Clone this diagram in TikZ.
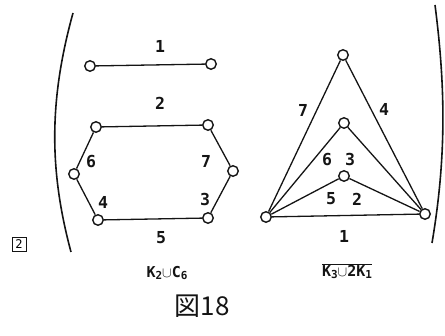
\documentclass[tikz,border=0pt]{standalone}
\usepackage{fontspec}
\setmonofont{DejaVu Sans Mono}
\newfontfamily\cjkFont{Noto Sans CJK JP}
\usepackage{xcolor}
\definecolor{inkDark}{RGB}{20, 20, 20}
\usetikzlibrary{positioning}
\newcommand{\subDigit}[1]{\raisebox{-2.5pt}{\fontsize{11}{12}\selectfont #1}}

\begin{document}
\begin{tikzpicture}[
    x=1pt, y=-1pt,
    vertexNode/.style={
        circle, draw=inkDark, line width=1.4pt,
        fill=white, minimum size=10.5pt, inner sep=0pt
    },
    graphEdge/.style={
        draw=inkDark, line width=1.3pt
    },
    edgeLabel/.style={
        font=\fontsize{16.5}{19}\selectfont\ttfamily\bfseries, text=inkDark, inner sep=0pt
    },
    captionLabel/.style={
        font=\fontsize{15}{18}\selectfont\ttfamily\bfseries, text=inkDark, inner sep=0pt
    },
    bracketLine/.style={
        draw=inkDark, line width=1.6pt
    }
]
    \useasboundingbox (0,0) rectangle (445,336);

    % Outer brackets
    \coordinate (lbTop) at (73,13);
    \coordinate (lbBot) at (71,252);
    \coordinate (rbTop) at (435,5);
    \coordinate (rbBot) at (432,243);
    \draw[bracketLine] (lbTop) .. controls (49,100) and (49,170) .. (lbBot);
    \draw[bracketLine] (rbTop) .. controls (446,90) and (446,160) .. (rbBot);

    % Item number
    \node[draw=inkDark, line width=0.9pt, minimum size=14pt, inner sep=0pt,
          font=\fontsize{12}{14}\selectfont\ttfamily] (itemNo) at (19,244) {2};

    % K2: single edge
    \node[vertexNode] (kA) at (90,66) {};
    \node[vertexNode] (kB) at (211,64) {};
    \draw[graphEdge] (kA) -- (kB);
    \node[edgeLabel] (lOne) at (160,46) {1};

    % C6: hexagon
    \node[vertexNode] (cTL) at (96,127) {};
    \node[vertexNode] (cTR) at (208,125) {};
    \node[vertexNode] (cR)  at (233,171) {};
    \node[vertexNode] (cBR) at (208,218) {};
    \node[vertexNode] (cBL) at (98,220) {};
    \node[vertexNode] (cL)  at (74,174) {};
    \draw[graphEdge] (cTL) -- (cTR) -- (cR) -- (cBR) -- (cBL) -- (cL) -- (cTL);
    \node[edgeLabel] (lTwo)   at (160,103) {2};
    \node[edgeLabel] (lSix)   at (91,162)  {6};
    \node[edgeLabel] (lSeven) at (206,161) {7};
    \node[edgeLabel] (lFour)  at (103,202) {4};
    \node[edgeLabel] (lThree) at (205,199) {3};
    \node[edgeLabel] (lFive)  at (161,238) {5};

    % Complement of K3 + 2K1
    \node[vertexNode] (tTop) at (343,55) {};
    \node[vertexNode] (tMid) at (344,123) {};
    \node[vertexNode] (tIn)  at (344,176) {};
    \node[vertexNode] (tL)   at (266,217) {};
    \node[vertexNode] (tR)   at (425,214) {};
    \draw[graphEdge] (tL) -- (tTop) -- (tR);
    \draw[graphEdge] (tL) -- (tMid) -- (tR);
    \draw[graphEdge] (tL) -- (tIn) -- (tR);
    \draw[graphEdge] (tL) -- (tR);
    \node[edgeLabel] (mSeven) at (303,110) {7};
    \node[edgeLabel] (mFour)  at (384,109) {4};
    \node[edgeLabel] (mSix)   at (327,160) {6};
    \node[edgeLabel] (mThree) at (350,159) {3};
    \node[edgeLabel] (mFive)  at (331,199) {5};
    \node[edgeLabel] (mTwo)   at (357,199) {2};
    \node[edgeLabel] (mOne)   at (344,236) {1};

    % Captions
    \node[captionLabel] (capLeft) at (167,273) {K\subDigit{2}$\cup$C\subDigit{6}};
    \node[captionLabel] (capRight) at (347,271)
        {$\overline{\hbox{\ttfamily\bfseries K\subDigit{3}$\cup$2K\subDigit{1}}}$};
    \node[font=\fontsize{26}{30}\selectfont\cjkFont, text=inkDark, inner sep=0pt]
        (figNo) at (202,306) {図18};

\end{tikzpicture}
\end{document}
